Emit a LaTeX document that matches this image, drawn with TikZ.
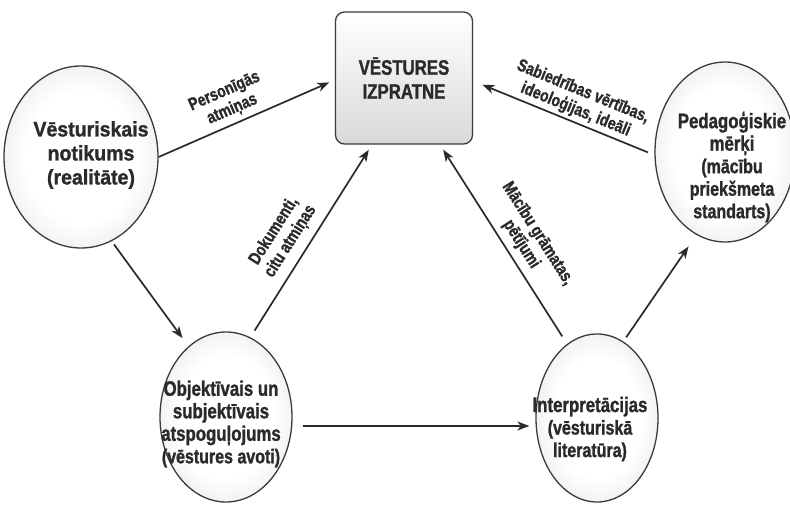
\documentclass[tikz,border=0pt]{standalone}
\usepackage{fontspec}
\usetikzlibrary{arrows.meta,shapes.geometric}
\newfontfamily\narrowsans{Liberation Sans}[FakeStretch=0.8, BoldFeatures={FakeBold=1.2}]
\newfontfamily\widesans{Liberation Sans}[FakeStretch=0.93, BoldFeatures={FakeBold=1.2}]
\newcommand\subline{\fontsize{20}{20}\selectfont}
\definecolor{ink}{HTML}{2A2A2A}
\definecolor{rim}{HTML}{3A3A3A}
% soft sphere-like fill: white core fading to light grey at the rim
\pgfdeclareradialshading{bubblefill}{\pgfpoint{0bp}{0bp}}{%
  color(0bp)=(white); color(18bp)=(white); color(50bp)=(black!22)}

\begin{document}
\begin{tikzpicture}[x=1pt,y=-1pt,
  oval/.style={ellipse, draw=rim, line width=1.3pt, inner sep=0pt,
    shading=bubblefill},
  bubbletext/.style={align=center, inner sep=0pt, text=ink,
    font=\narrowsans\bfseries\fontsize{21}{22.5}\selectfont},
  arr/.style={draw=ink, line width=1.7pt,
    -{Stealth[length=12pt,width=9pt,inset=3.5pt]}},
  lbl/.style={sloped, align=center, inner sep=0pt, text=ink,
    font=\narrowsans\bfseries\fontsize{17.5}{19.5}\selectfont},
]
\useasboundingbox (0,0) rectangle (790,508);

% central box
\node[draw=rim, line width=1.3pt, rounded corners=9pt,
  minimum width=137pt, minimum height=132pt,
  top color=white, middle color=white, bottom color=gray!30,
  align=center, text=ink,
  font=\narrowsans\bfseries\fontsize{21}{24}\selectfont]
  (box) at (404,78) {VĒSTURES\\IZPRATNE};

% ellipses
\node[oval, minimum width=154pt, minimum height=182pt] (L)  at (81,157) {};
\node[oval, minimum width=140pt, minimum height=180pt] (R)  at (725,152) {};
\node[oval, minimum width=132pt, minimum height=170pt] (BL) at (226,417) {};
\node[oval, minimum width=122pt, minimum height=168pt] (BR) at (597,418) {};

% ellipse texts
\node[bubbletext, font=\widesans\bfseries\fontsize{21}{24}\selectfont]
  (Ltxt) at (91,155) {Vēsturiskais\\notikums\\(realitāte)};
\node[bubbletext] (Rtxt) at (732,167)
  {Pedagoģiskie\\mērķi\\\subline(mācību\\\subline priekšmeta\\\subline standarts)};
\node[bubbletext] (BLtxt) at (221,424)
  {Objektīvais un\\subjektīvais\\atspoguļojums\\\subline(vēstures avoti)};
\node[bubbletext] (BRtxt) at (590,429)
  {Interpretācijas\\\subline(vēsturiskā\\\subline literatūra)};

% connectors
\draw[arr, shorten >=6pt] (L.east) -- ([yshift=-2pt]box.west)
  node[lbl, pos=0.45, above=5pt] (lab1) {Personīgās\\atmiņas};
\draw[arr, shorten <=7pt, shorten >=10pt] ([yshift=-3pt]R.west) -- ([yshift=-3pt]box.east)
  node[lbl, pos=0.46, above=3pt] (lab2) {Sabiedrības vērtības,\\ideoloģijas, ideāli};
\draw[arr, shorten <=8pt, shorten >=6pt] (BL.73) -- ([xshift=-32pt]box.south)
  node[lbl, pos=0.45, above=8pt] (lab3) {Dokumenti,\\citu atmiņas};
\draw[arr, shorten <=9pt, shorten >=6pt] (BR.112) -- ([xshift=36pt]box.south)
  node[lbl, pos=0.46, above=6pt] (lab4) {Mācību grāmatas,\\pētījumi};
\draw[arr, shorten <=4pt, shorten >=10pt] (L.-70) -- (BL.118);
\draw[arr, shorten <=10pt, shorten >=6pt] ([yshift=-9pt]BL.east) -- ([yshift=-8pt]BR.west);
\draw[arr, shorten <=5pt, shorten >=14pt] (BR.71) -- (R.-109);
\end{tikzpicture}
\end{document}
